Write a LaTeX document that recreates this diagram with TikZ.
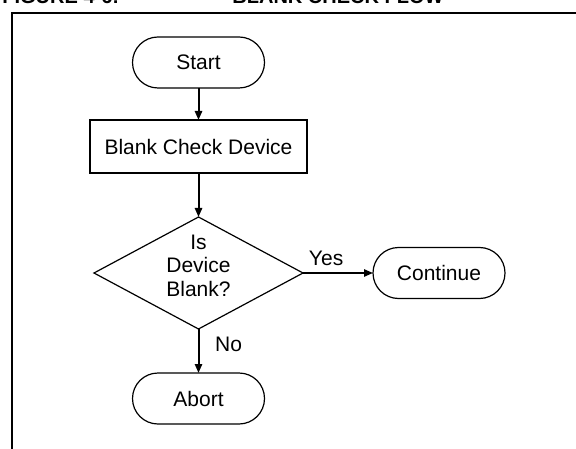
\documentclass[tikz,border=0pt]{standalone}
\usepackage{fontspec}
\setmainfont{Liberation Sans}
\usetikzlibrary{positioning,shapes.geometric,arrows.meta}

\tikzset{
  terminal/.style={draw, rounded corners=12.75pt, minimum width=66pt,
    minimum height=25.5pt, line width=0.6pt, outer sep=0pt},
  process/.style={draw, minimum width=108.5pt, minimum height=26.5pt,
    line width=1pt, outer sep=0pt},
  decision/.style={draw, diamond, minimum width=104.5pt,
    minimum height=56pt, inner sep=0pt, line width=0.6pt, outer sep=0pt},
  flow/.style={-{Triangle[length=4.5pt,width=3.6pt]}, line width=1pt},
}

\begin{document}
\begin{tikzpicture}[font=\fontsize{10.5}{11.75}\selectfont]
\useasboundingbox (0,0) rectangle (288pt,-224pt);
\clip (0,0) rectangle (288pt,-224pt);

% caption line, cut off by the top of the page
\node[anchor=base west, inner sep=0pt, font=\fontsize{10}{12}\selectfont\bfseries]
  (figno) at (1pt,-1.8pt) {FIGURE 4-6:};
\node[anchor=base west, inner sep=0pt, font=\fontsize{10}{12}\selectfont\bfseries]
  (figtitle) at (116pt,-1.8pt) {BLANK CHECK FLOW};

% frame round the flow, runs on past the page
\draw[line width=1pt] (295pt,-6.3pt) -| (6pt,-232pt);

\node[terminal] (start) at (99.25pt,-31.25pt) {Start};
\node[process, below=16pt of start] (blank) {Blank Check Device};
\node[decision, below=22pt of blank] (check) {};
\node[align=center, inner sep=0pt] (question) at ([yshift=3.75pt]check.center)
  {Is\\Device\\Blank?};
\node[terminal, right=35pt of check] (continue) {Continue};
\node[terminal, below=22pt of check] (abort) {Abort};

\draw[flow] (start) -- (blank);
\draw[flow] (blank) -- (check);
\draw[flow] (check) -- node[pos=0.33, above] (yes) {Yes} (continue);
\draw[flow] (check) -- node[pos=0.36, right=4.5pt] (no) {No} (abort);

\end{tikzpicture}
\end{document}
